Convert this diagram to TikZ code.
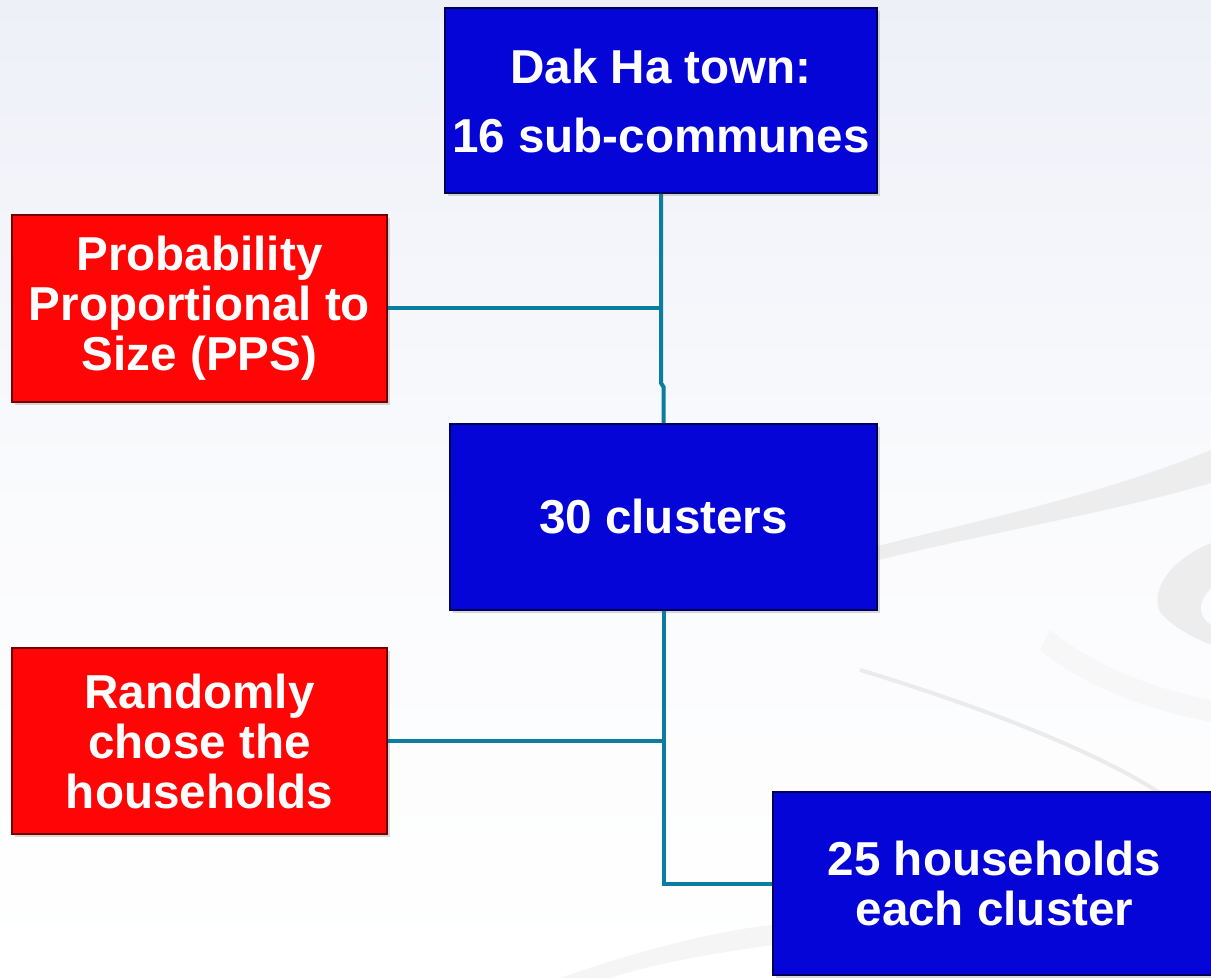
\documentclass[tikz,border=0pt]{standalone}
\usepackage{fontspec}
\setmainfont{Liberation Sans}
\usetikzlibrary{shadows}

\definecolor{boxblue}{RGB}{5,5,215}
\definecolor{boxred}{RGB}{255,5,5}
\definecolor{linkteal}{RGB}{10,125,160}
\definecolor{bgtop}{RGB}{238,240,248}

\begin{document}
\begin{tikzpicture}[x=0.5pt,y=-0.5pt,
    box/.style={draw,line width=0.8pt,text=white,align=center,inner sep=0pt,
      font=\fontsize{23.8}{25}\selectfont\bfseries,
      drop shadow={opacity=0.3,shadow xshift=1.5pt,shadow yshift=-1.5pt}},
    bluebox/.style={box,fill=boxblue,draw=blue!35!black},
    redbox/.style={box,fill=boxred,draw=red!45!black},
    link/.style={draw=linkteal,line width=2pt},
    swoosh/.style={fill=black!7,draw=none}]
    \useasboundingbox (0,0) rectangle (1211,978);
    % background
    \fill[top color=bgtop,bottom color=white,middle color=white!70!bgtop] (0,0) rectangle (1211,978);
    \fill[swoosh] (870,548) .. controls (1000,515) and (1100,495) .. (1211,450)
      -- (1211,483) .. controls (1100,515) and (1000,530) .. (870,562) -- cycle;
    \fill[swoosh] (1211,543) .. controls (1170,560) and (1150,590) .. (1160,612)
      .. controls (1175,630) and (1200,640) .. (1211,645)
      -- (1211,625) .. controls (1200,618) and (1195,605) .. (1211,588) -- cycle;
    \draw[black!8,line width=2pt] (860,670) .. controls (960,700) and (1100,750) .. (1170,800);
    \fill[black!3] (1050,630) .. controls (1100,670) and (1160,690) .. (1211,700)
      -- (1211,722) .. controls (1150,710) and (1090,690) .. (1040,650) -- cycle;
    \fill[black!4] (560,978) .. controls (640,950) and (720,930) .. (773,925)
      -- (773,945) .. controls (700,955) and (650,965) .. (610,978) -- cycle;
    % boxes
    \node[bluebox,minimum width=216pt,minimum height=92.5pt] (A0_1) at (661,100.5)
      {Dak Ha town:\\[9.5pt]16 sub-communes};
    \node[redbox,minimum width=187.5pt,minimum height=93.5pt] (A1_0) at (199.5,308.5)
      {Probability\\Proportional to\\Size (PPS)};
    \node[bluebox,minimum width=213.5pt,minimum height=93pt] (A2_1) at (663.5,517)
      {30 clusters};
    \node[redbox,minimum width=187.5pt,minimum height=93pt] (A3_0) at (199.5,741)
      {Randomly\\chose the\\households};
    \node[bluebox,minimum width=221.5pt,minimum height=91.5pt] (A4_2) at (994.5,883.5)
      {25 households\\each cluster};
    % connectors
    \coordinate (J1) at (661,383);
    \coordinate (J2) at (663.5,387);
    \draw[link] (A0_1.south) -- (J1) -- (J2) -- (A2_1.north);
    \draw[link] (A1_0.east) -- (A1_0.east -| A0_1.south);
    \draw[link] (A2_1.south) |- (A4_2.west);
    \draw[link] (A3_0.east) -- (A3_0.east -| A2_1.south);
\end{tikzpicture}
\end{document}
